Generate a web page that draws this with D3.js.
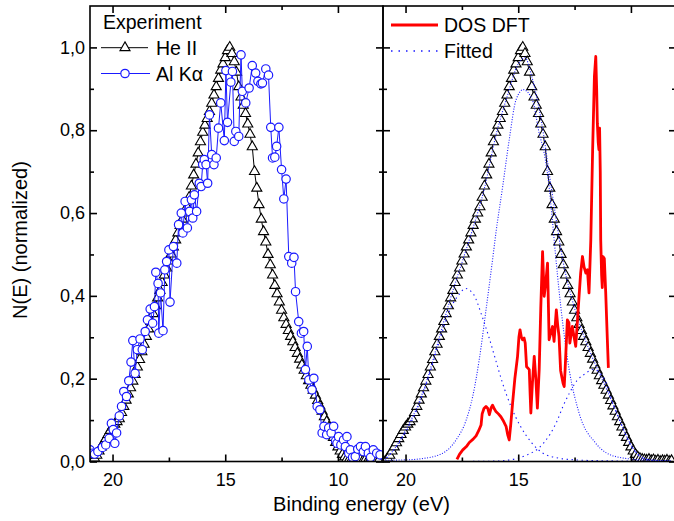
<!DOCTYPE html>
<html>
<head>
<meta charset="utf-8">
<script src="https://cdn.jsdelivr.net/npm/d3@7"></script>
<style>
  body { margin: 0; background: #fff; }
  svg { display: block; font-family: "Liberation Sans", Arial, sans-serif; }
</style>
</head>
<body>
<script>
// He II spectrum (shown in both panels)
const heEnergy = [20.9,20.8,20.7,20.6,20.5,20.4,20.3,20.2,20.1,20.0,19.9,19.8,19.7,19.6,19.5,19.4,19.3,19.2,19.1,19.0,
  18.9,18.8,18.7,18.6,18.5,18.4,18.3,18.2,18.1,18.0,17.9,17.8,17.7,17.6,17.5,17.4,17.3,17.2,17.1,17.0,
  16.9,16.8,16.7,16.6,16.5,16.4,16.3,16.2,16.1,16.0,15.9,15.8,15.7,15.6,15.5,15.4,15.3,15.2,15.1,15.0,
  14.9,14.8,14.7,14.6,14.5,14.4,14.3,14.2,14.1,14.0,13.9,13.8,13.7,13.6,13.5,13.4,13.3,13.2,13.1,13.0,
  12.9,12.8,12.7,12.6,12.5,12.4,12.3,12.2,12.1,12.0,11.9,11.8,11.7,11.6,11.5,11.4,11.3,11.2,11.1,11.0,
  10.9,10.8,10.7,10.6,10.5,10.4,10.3,10.2,10.1,10.0,9.9,9.8,9.7,9.6,9.5,9.4,9.3,9.2,9.1,9.0,
  8.9,8.8,8.7,8.6,8.5,8.4,8.3,8.2];
const heValue = [0.000,0.008,0.015,0.025,0.035,0.045,0.055,0.065,0.075,0.083,0.090,0.096,0.103,0.118,0.133,0.148,0.163,0.178,0.194,0.210,
  0.228,0.246,0.265,0.283,0.302,0.320,0.338,0.357,0.376,0.395,0.413,0.432,0.450,0.467,0.484,0.501,0.518,0.535,0.552,0.570,
  0.585,0.600,0.615,0.638,0.665,0.692,0.718,0.745,0.772,0.795,0.812,0.828,0.845,0.865,0.885,0.905,0.925,0.945,0.960,0.975,
  0.992,1.000,0.985,0.965,0.940,0.905,0.880,0.860,0.840,0.815,0.790,0.760,0.700,0.660,0.620,0.585,0.555,0.530,0.500,0.475,
  0.450,0.425,0.405,0.385,0.365,0.347,0.331,0.316,0.302,0.289,0.275,0.261,0.247,0.233,0.220,0.207,0.195,0.184,0.172,0.160,
  0.147,0.134,0.121,0.108,0.096,0.083,0.070,0.058,0.046,0.035,0.025,0.017,0.011,0.007,0.005,0.004,0.003,0.005,0.002,0.004,
  0.001,0.003,0.000,0.002,0.001,0.003,0.000,0.002];

// Al K-alpha spectrum (left panel)
const alEnergy = [21.0,20.9,20.8,20.65,20.45,20.3,20.15,20.05,19.97,19.9,19.82,19.7,19.6,19.5,19.38,19.28,19.18,19.1,19.0,18.9,
  18.78,18.68,18.55,18.45,18.33,18.22,18.14,18.08,17.98,17.95,17.87,17.76,17.68,17.6,17.5,17.45,17.3,17.15,17.07,16.95,
  16.88,16.78,16.68,16.58,16.5,16.44,16.37,16.27,16.15,16.07,16.0,15.93,15.85,15.78,15.7,15.6,15.5,15.4,15.3,15.2,
  15.04,14.97,14.9,14.75,14.68,14.6,14.53,14.4,14.3,14.24,14.09,13.94,13.8,13.65,13.55,13.42,13.35,13.2,13.08,12.98,
  12.9,12.8,12.72,12.62,12.5,12.4,12.3,12.18,12.05,11.95,11.88,11.74,11.62,11.52,11.44,11.36,11.29,11.15,11.07,10.92,
  10.8,10.7,10.62,10.5,10.41,10.3,10.19,10.1,10.04,9.97,9.87,9.75,9.67,9.6,9.52,9.45,9.35,9.23,9.12,9.0,
  8.87,8.78,8.65,8.55,8.43,8.28,8.13];
const alValue = [0.028,0.020,0.018,0.024,0.034,0.040,0.056,0.092,0.077,0.044,0.069,0.110,0.133,0.169,0.157,0.195,0.240,0.292,0.213,0.270,
  0.296,0.270,0.314,0.342,0.368,0.334,0.374,0.457,0.430,0.310,0.407,0.316,0.463,0.483,0.511,0.385,0.519,0.479,0.572,0.600,
  0.552,0.628,0.564,0.604,0.632,0.588,0.644,0.604,0.672,0.664,0.717,0.729,0.717,0.672,0.837,0.741,0.717,0.733,0.805,0.866,
  0.775,0.944,0.819,0.916,0.942,0.773,0.797,0.785,0.982,0.894,0.866,0.902,0.956,0.938,0.918,0.912,0.914,0.948,0.933,0.807,
  0.733,0.735,0.761,0.807,0.705,0.634,0.682,0.495,0.479,0.493,0.410,0.338,0.310,0.314,0.222,0.278,0.197,0.173,0.201,0.133,
  0.125,0.069,0.085,0.065,0.081,0.069,0.085,0.050,0.044,0.060,0.040,0.052,0.036,0.060,0.020,0.028,0.010,0.012,0.030,0.036,
  0.024,0.036,0.020,0.010,0.028,0.020,0.016];

// DOS from DFT (right panel)
const dosEnergy = [17.72,17.6,17.46,17.3,17.17,17.0,16.87,16.75,16.65,16.6,16.52,16.43,16.35,16.28,16.2,16.14,16.05,15.99,15.88,15.77,
  15.65,15.54,15.47,15.4,15.33,15.25,15.15,15.03,14.97,14.92,14.86,14.81,14.74,14.69,14.63,14.56,14.51,14.47,14.44,14.37,
  14.29,14.22,14.15,14.07,14.0,13.92,13.85,13.78,13.7,13.63,13.56,13.48,13.41,13.31,13.25,13.19,13.12,13.07,13.01,12.96,
  12.92,12.82,12.75,12.71,12.6,12.52,12.45,12.38,12.3,12.23,12.15,12.08,12.0,11.93,11.86,11.78,11.7,11.62,11.56,11.52,
  11.49,11.45,11.42,11.39,11.36,11.34,11.3,11.27,11.24,11.18,11.12,11.05,11.0];
const dosValue = [0.005,0.018,0.028,0.036,0.046,0.054,0.062,0.075,0.088,0.115,0.128,0.133,0.128,0.113,0.130,0.136,0.126,0.121,0.115,0.108,
  0.097,0.085,0.065,0.052,0.090,0.141,0.200,0.254,0.300,0.318,0.300,0.294,0.298,0.286,0.229,0.225,0.222,0.160,0.117,0.190,
  0.254,0.200,0.129,0.222,0.370,0.507,0.399,0.430,0.479,0.294,0.310,0.326,0.290,0.366,0.330,0.302,0.220,0.205,0.189,0.181,
  0.222,0.342,0.335,0.286,0.326,0.300,0.278,0.334,0.400,0.455,0.495,0.470,0.455,0.463,0.407,0.535,0.750,0.930,0.978,0.900,
  0.817,0.770,0.753,0.805,0.700,0.535,0.450,0.420,0.495,0.490,0.410,0.300,0.226];

// Fitted curves
const fitSumEnergy = [21.0,20.5,20.0,19.5,19.0,18.5,18.0,17.5,17.0,16.5,16.0,15.5,15.0,14.7,14.4,14.0,13.5,13.0,12.5,12.0,11.5,11.0,10.5,10.0,9.5,9.0,8.2];
const fitSumValue = [0.0,0.03,0.075,0.13,0.205,0.30,0.395,0.48,0.565,0.66,0.785,0.88,0.96,0.975,0.93,0.83,0.65,0.48,0.37,0.29,0.225,0.165,0.10,0.04,0.01,0.003,0.001];

const fitAEnergy = [21.0,20.5,20.0,19.5,19.0,18.5,18.0,17.6,17.35,17.0,16.6,16.3,16.0,15.7,15.3,14.9,14.4,13.9,13.2,12.5,11.5,10.0,8.2];
const fitAValue = [0.0,0.03,0.07,0.125,0.20,0.29,0.37,0.405,0.418,0.405,0.35,0.30,0.245,0.19,0.13,0.085,0.045,0.02,0.008,0.004,0.002,0.001,0.0];

const fitBEnergy = [21.0,20.0,19.4,18.35,17.76,17.31,17.02,16.73,16.43,16.14,15.99,15.69,15.4,15.1,14.78,14.37,14.07,13.85,13.63,13.48,13.33,13.04,12.74,12.3,11.56,10.68,9.5,8.2];
const fitBValue = [0.003,0.004,0.006,0.02,0.052,0.10,0.157,0.246,0.366,0.487,0.552,0.664,0.777,0.873,0.898,0.873,0.793,0.745,0.664,0.58,0.49,0.34,0.222,0.117,0.044,0.012,0.004,0.002];

const fitCEnergy = [21.0,18.0,16.0,15.5,15.0,14.6,14.1,13.6,13.3,13.0,12.7,12.4,12.0,11.7,11.4,11.1,10.8,10.5,10.2,9.9,9.6,9.2,8.6,8.2];
const fitCValue = [0.0,0.0,0.001,0.003,0.008,0.016,0.032,0.065,0.095,0.135,0.168,0.195,0.213,0.222,0.215,0.19,0.14,0.10,0.06,0.03,0.012,0.004,0.001,0.0];

const xTickMajor = [20, 15, 10];
const xTickMinor = [17.5, 12.5];
const yTickMajor = [0, 0.2, 0.4, 0.6, 0.8, 1.0];
const yTickMinor = [0.1, 0.3, 0.5, 0.7, 0.9];

const zip = (xs, ys) => xs.map((d, i) => [d, ys[i]]);
const heII = zip(heEnergy, heValue);
const alKa = zip(alEnergy, alValue);
const dos = zip(dosEnergy, dosValue);
const fits = [
  { pts: zip(fitSumEnergy, fitSumValue), dash: "1,1.6" },
  { pts: zip(fitAEnergy, fitAValue), dash: "1.4,3.6" },
  { pts: zip(fitBEnergy, fitBValue), dash: "1,1.6" },
  { pts: zip(fitCEnergy, fitCValue), dash: "1.4,3.6" }
];

const width = 674, height = 521;
const blue = "#1a1aff";

const svg = d3.select("body").append("svg")
  .attr("width", width)
  .attr("height", height);

const y = d3.scaleLinear().domain([0, 1.1]).range([461.5, 6]);
const xL = d3.scaleLinear().domain([21, 8]).range([90, 383]);
const xR = d3.scaleLinear().domain([21, 8]).range([383, 676]);

const tri = d3.symbol(d3.symbolTriangle, 44);

function panel(x, id) {
  const [x0, x1] = x.range();
  svg.append("clipPath").attr("id", id)
    .append("rect")
    .attr("x", x0).attr("y", y(1.1))
    .attr("width", x1 - x0).attr("height", y(0) - y(1.1));
  return svg.append("g").attr("clip-path", `url(#${id})`);
}

function drawHe(g, x) {
  g.append("path")
    .datum(heII)
    .attr("fill", "none")
    .attr("stroke", "#000")
    .attr("stroke-width", 1)
    .attr("d", d3.line().x(d => x(d[0])).y(d => y(d[1])));
  g.selectAll(null)
    .data(heII)
    .enter()
    .append("path")
      .attr("d", tri)
      .attr("transform", d => `translate(${x(d[0])},${y(d[1])})`)
      .attr("fill", "#fff")
      .attr("stroke", "#000")
      .attr("stroke-width", 1.1);
}

function frame(x) {
  const [x0, x1] = x.range();
  const g = svg.append("g");
  const sz = 7, szMinor = 4;
  const style = (sel) => {
    sel.select(".domain").remove();
    sel.selectAll("line").attr("stroke", "#000").attr("stroke-width", 1.6);
    sel.selectAll("text").attr("font-size", 18).attr("fill", "#000");
  };
  g.append("g").attr("transform", `translate(0,${y(0)})`)
    .call(d3.axisBottom(x).tickValues(xTickMajor).tickSize(-sz).tickPadding(12).tickFormat(d3.format("d")))
    .call(style);
  g.append("g").attr("transform", `translate(0,${y(0)})`)
    .call(d3.axisBottom(x).tickValues(xTickMinor).tickSize(-szMinor).tickFormat(""))
    .call(style);
  g.append("g").attr("transform", `translate(0,${y(1.1)})`)
    .call(d3.axisTop(x).tickValues(xTickMajor).tickSize(-sz).tickFormat(""))
    .call(style);
  g.append("g").attr("transform", `translate(0,${y(1.1)})`)
    .call(d3.axisTop(x).tickValues(xTickMinor).tickSize(-szMinor).tickFormat(""))
    .call(style);
  g.append("g").attr("transform", `translate(${x0},0)`)
    .call(d3.axisLeft(y).tickValues(yTickMajor).tickSize(-sz).tickPadding(5)
      .tickFormat(x0 < 100 ? (d => d3.format(".1f")(d).replace(".", ",")) : ""))
    .call(style);
  g.append("g").attr("transform", `translate(${x0},0)`)
    .call(d3.axisLeft(y).tickValues(yTickMinor).tickSize(-szMinor).tickFormat(""))
    .call(style);
  g.append("g").attr("transform", `translate(${x1},0)`)
    .call(d3.axisRight(y).tickValues(yTickMajor).tickSize(-sz).tickFormat(""))
    .call(style);
  g.append("g").attr("transform", `translate(${x1},0)`)
    .call(d3.axisRight(y).tickValues(yTickMinor).tickSize(-szMinor).tickFormat(""))
    .call(style);
  g.append("rect")
    .attr("x", x0).attr("y", y(1.1))
    .attr("width", x1 - x0).attr("height", y(0) - y(1.1))
    .attr("fill", "none")
    .attr("stroke", "#000")
    .attr("stroke-width", 1.6);
}

// left panel
const gl = panel(xL, "clipL");
drawHe(gl, xL);
gl.append("path")
  .datum(alKa)
  .attr("fill", "none")
  .attr("stroke", blue)
  .attr("stroke-width", 1)
  .attr("d", d3.line().x(d => xL(d[0])).y(d => y(d[1])));
gl.selectAll(null)
  .data(alKa)
  .enter()
  .append("circle")
    .attr("cx", d => xL(d[0]))
    .attr("cy", d => y(d[1]))
    .attr("r", 4.2)
    .attr("fill", "#fff")
    .attr("stroke", blue)
    .attr("stroke-width", 1.2);

// right panel
const gr = panel(xR, "clipR");
drawHe(gr, xR);
const fitLine = d3.line().curve(d3.curveMonotoneX).x(d => xR(d[0])).y(d => y(d[1]));
fits.forEach(f => {
  gr.append("path")
    .datum(f.pts)
    .attr("fill", "none")
    .attr("stroke", blue)
    .attr("stroke-width", 1.1)
    .attr("stroke-dasharray", f.dash)
    .attr("d", fitLine);
});
gr.append("path")
  .datum(dos)
  .attr("fill", "none")
  .attr("stroke", "#ff0000")
  .attr("stroke-width", 2.8)
  .attr("stroke-linejoin", "round")
  .attr("d", d3.line().x(d => xR(d[0])).y(d => y(d[1])));

frame(xL);
frame(xR);

// legends
const lf = 19.5;
svg.append("text").attr("x", 103).attr("y", 29).attr("font-size", lf).text("Experiment");

svg.append("line").attr("x1", 101).attr("x2", 148).attr("y1", 47.7).attr("y2", 47.7)
  .attr("stroke", "#000").attr("stroke-width", 1);
svg.append("path").attr("d", tri).attr("transform", "translate(125,47.7)")
  .attr("fill", "#fff").attr("stroke", "#000").attr("stroke-width", 1.1);
svg.append("text").attr("x", 156).attr("y", 54.5).attr("font-size", lf).text("He II");

svg.append("line").attr("x1", 101).attr("x2", 150).attr("y1", 73.5).attr("y2", 73.5)
  .attr("stroke", blue).attr("stroke-width", 1);
svg.append("circle").attr("cx", 125).attr("cy", 73.5).attr("r", 4.2)
  .attr("fill", "#fff").attr("stroke", blue).attr("stroke-width", 1.2);
svg.append("text").attr("x", 156).attr("y", 81).attr("font-size", lf).text("Al K\u03b1");

svg.append("line").attr("x1", 391).attr("x2", 438).attr("y1", 25).attr("y2", 25)
  .attr("stroke", "#ff0000").attr("stroke-width", 2.8);
svg.append("text").attr("x", 444).attr("y", 32).attr("font-size", lf).text("DOS DFT");

svg.append("line").attr("x1", 391).attr("x2", 438).attr("y1", 51).attr("y2", 51)
  .attr("stroke", blue).attr("stroke-width", 1.3).attr("stroke-dasharray", "1.5,6");
svg.append("text").attr("x", 444).attr("y", 58.3).attr("font-size", lf).text("Fitted");

// axis titles
svg.append("text")
  .attr("x", 361.5).attr("y", 511)
  .attr("text-anchor", "middle")
  .attr("font-size", 20)
  .text("Binding energy (eV)");

svg.append("text")
  .attr("transform", "translate(27,240) rotate(-90)")
  .attr("text-anchor", "middle")
  .attr("font-size", 20)
  .text("N(E) (normalized)");
</script>
</body>
</html>
